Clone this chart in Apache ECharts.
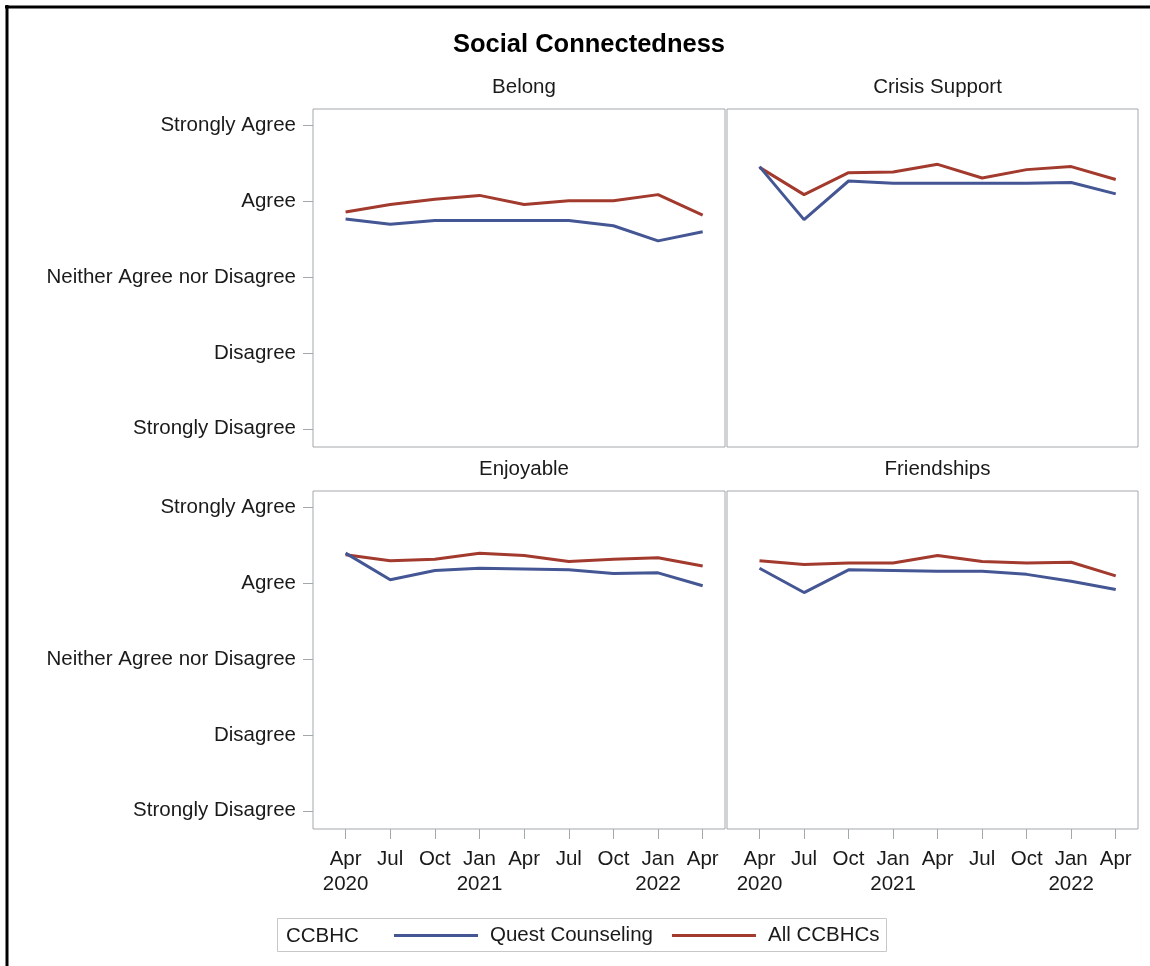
<!DOCTYPE html>
<html>
<head>
<meta charset="utf-8">
<title>Social Connectedness</title>
<script src="https://cdn.jsdelivr.net/npm/echarts@6/dist/echarts.min.js"></script>
<style>
  html, body { margin: 0; padding: 0; background: #fff; }
  #chart { width: 1150px; height: 966px; }
</style>
</head>
<body>
<div id="chart"></div>
<script>
// Quarter labels along the x axis (index 0..8)
const quarters = ['Apr\n2020', 'Jul', 'Oct', 'Jan\n2021', 'Apr', 'Jul', 'Oct', 'Jan\n2022', 'Apr'];
// Likert scale labels, value 1..5
const levels = ['Strongly Disagree', 'Disagree', 'Neither Agree nor Disagree', 'Agree', 'Strongly Agree'];
const panelNames = ['Belong', 'Crisis Support', 'Enjoyable', 'Friendships'];
const seriesNames = ['Quest Counseling', 'All CCBHCs'];

// Mean scores per quarter
const questBelong     = [3.77, 3.70, 3.75, 3.75, 3.75, 3.75, 3.68, 3.48, 3.60];
const allBelong       = [3.86, 3.96, 4.03, 4.08, 3.96, 4.01, 4.01, 4.09, 3.82];
const questCrisis     = [4.46, 3.76, 4.27, 4.24, 4.24, 4.24, 4.24, 4.25, 4.10];
const allCrisis       = [4.45, 4.09, 4.38, 4.39, 4.49, 4.31, 4.42, 4.46, 4.29];
const questEnjoyable  = [4.40, 4.05, 4.17, 4.20, 4.19, 4.18, 4.13, 4.14, 3.97];
const allEnjoyable    = [4.38, 4.30, 4.32, 4.40, 4.37, 4.29, 4.32, 4.34, 4.23];
const questFriends    = [4.20, 3.88, 4.18, 4.17, 4.16, 4.16, 4.12, 4.03, 3.92];
const allFriends      = [4.30, 4.25, 4.27, 4.27, 4.37, 4.29, 4.27, 4.28, 4.10];

const panelData = [
  [questBelong, allBelong],
  [questCrisis, allCrisis],
  [questEnjoyable, allEnjoyable],
  [questFriends, allFriends]
];

const BLUE = '#445694';
const RED = '#A23A2E';
const FRAME = '#a3a8ab';
const TEXT = '#1a1a1a';
const FONT = '"Liberation Sans", Arial, sans-serif';

// panel boxes in pixels: [left, top, width, height]
const boxes = [
  [313, 109, 412, 338],
  [727, 109, 411, 338],
  [313, 491, 412, 338],
  [727, 491, 411, 338]
];

const tickIdx = quarters.map((q, i) => i);
const levelVals = levels.map((l, i) => i + 1);

const grids = [], xAxes = [], yAxes = [], series = [], titles = [];

titles.push({
  text: 'Social Connectedness',
  left: 584, top: 27, textAlign: 'center',
  textStyle: { fontFamily: FONT, fontSize: 25.5, fontWeight: 'bold', color: '#000' }
});

boxes.forEach((b, p) => {
  const isLeft = p % 2 === 0;
  const isBottom = p >= 2;
  grids.push({
    left: b[0], top: b[1], width: b[2], height: b[3],
    show: true, borderColor: FRAME, borderWidth: 1, backgroundColor: 'transparent',
    containLabel: false
  });
  titles.push({
    text: panelNames[p],
    left: b[0] + b[2] / 2, top: b[1] - 37, textAlign: 'center',
    textStyle: { fontFamily: FONT, fontSize: 20.5, fontWeight: 'normal', color: TEXT }
  });
  xAxes.push({
    type: 'value', gridIndex: p, min: -0.73, max: 8.5, position: 'bottom',
    splitLine: { show: false },
    axisLine: { show: false, onZero: false },
    axisTick: {
      show: isBottom, inside: false, length: 10,
      customValues: tickIdx,
      lineStyle: { color: FRAME, width: 1 }
    },
    axisLabel: {
      show: isBottom, customValues: tickIdx, margin: 18,
      fontFamily: FONT, fontSize: 20.5, color: TEXT, lineHeight: 25,
      formatter: v => quarters[Math.round(v)] || ''
    }
  });
  yAxes.push({
    type: 'value', gridIndex: p, min: 0.76, max: 5.22, position: 'left',
    splitLine: { show: false },
    axisLine: { show: false, onZero: false },
    axisTick: {
      show: isLeft, inside: false, length: 10,
      customValues: levelVals,
      lineStyle: { color: FRAME, width: 1 }
    },
    axisLabel: {
      show: isLeft, customValues: levelVals, margin: 17,
      fontFamily: FONT, fontSize: 20.5, color: TEXT,
      formatter: v => levels[Math.round(v) - 1] || ''
    }
  });
  panelData[p].forEach((vals, s) => {
    series.push({
      name: seriesNames[s],
      type: 'line',
      xAxisIndex: p, yAxisIndex: p,
      data: vals.map((v, i) => [i, v]),
      symbol: 'none', showSymbol: false,
      lineStyle: { color: s === 0 ? BLUE : RED, width: 3 },
      itemStyle: { color: s === 0 ? BLUE : RED },
      z: s === 0 ? 3 : 2,
      animation: false
    });
  });
});

const chart = echarts.init(document.getElementById('chart'), null, { renderer: 'canvas' });
chart.setOption({
  backgroundColor: '#fff',
  animation: false,
  title: titles,
  grid: grids,
  xAxis: xAxes,
  yAxis: yAxes,
  series: series,
  legend: {
    show: true,
    data: seriesNames,
    orient: 'horizontal',
    left: 394, top: 925, padding: 0,
    icon: 'rect',
    itemWidth: 84, itemHeight: 3, itemGap: 19,
    textStyle: { fontFamily: FONT, fontSize: 20.5, color: TEXT, padding: [3, 0, 0, 7] },
    selectedMode: false
  },
  graphic: [
    // outer frame on the left and top edges
    { type: 'line', shape: { x1: 7, y1: 5, x2: 7, y2: 966 }, style: { stroke: '#000', lineWidth: 3 }, silent: true },
    { type: 'line', shape: { x1: 5, y1: 7, x2: 1150, y2: 7 }, style: { stroke: '#000', lineWidth: 3 }, silent: true },
    // legend box and its heading
    { type: 'rect', shape: { x: 277.5, y: 918.5, width: 609, height: 33 }, style: { fill: null, stroke: '#c8c8c8', lineWidth: 1 }, silent: true, z: -1 },
    { type: 'text', x: 286, y: 936, style: { text: 'CCBHC', font: '20.5px ' + FONT, fill: TEXT, verticalAlign: 'middle' }, silent: true }
  ]
});
</script>
</body>
</html>
